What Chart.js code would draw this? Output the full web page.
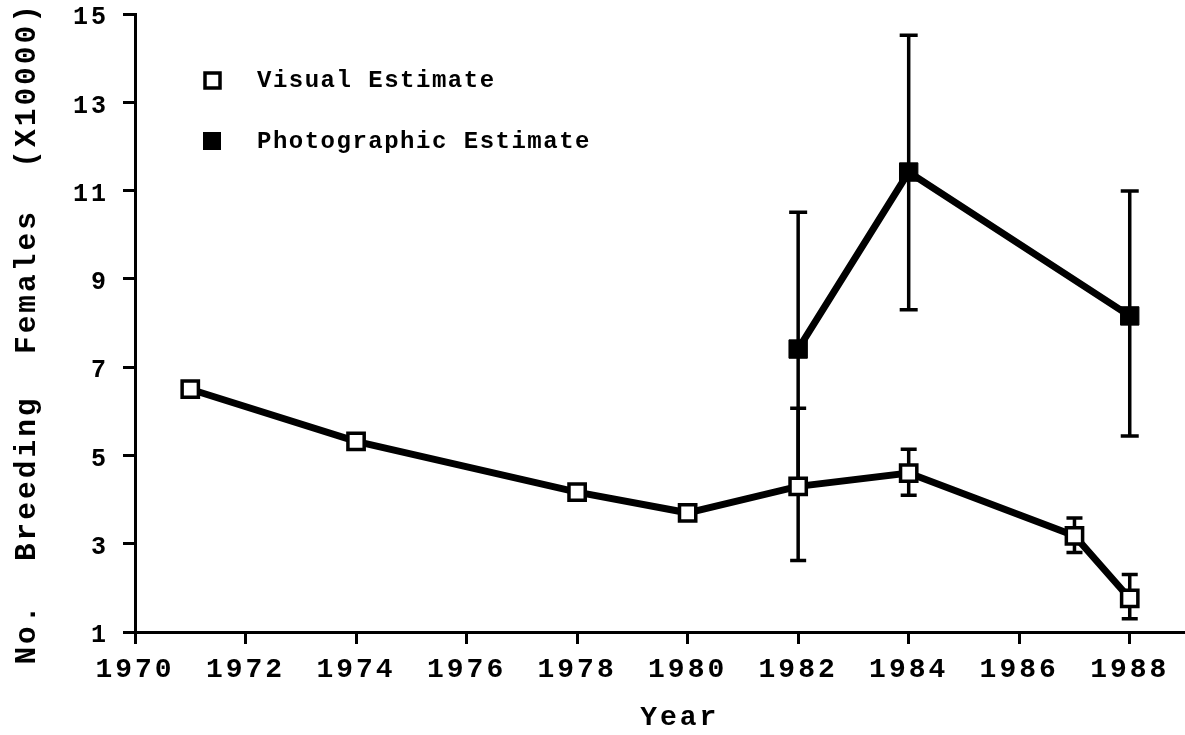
<!DOCTYPE html>
<html>
<head>
<meta charset="utf-8">
<script src="https://cdn.jsdelivr.net/npm/chart.js@4"></script>
<style>
	html, body { margin: 0; padding: 0; background: #fff; }
	#wrap { width: 1185px; height: 735px; }
</style>
</head>
<body>
<div id="wrap"><canvas id="chart" width="1185" height="735"></canvas></div>
<script>
// values (x10000 breeding females)
const visualYears = [1971, 1974, 1978, 1980, 1982, 1984, 1987, 1988];
const visualValues = [6.5, 5.32, 4.17, 3.7, 4.3, 4.6, 3.18, 1.76];
const visualLow = [null, null, null, null, 2.62, 4.1, 2.8, 1.3];
const visualHigh = [null, null, null, null, 6.07, 5.14, 3.58, 2.3];

const photoYears = [1982, 1984, 1988];
const photoValues = [7.41, 11.42, 8.16];
const photoLow = [4.3, 8.3, 5.44];
const photoHigh = [10.51, 14.52, 10.99];

const yTicks = [1, 3, 5, 7, 9, 11, 13, 15];
const xTicks = [1970, 1972, 1974, 1976, 1978, 1980, 1982, 1984, 1986, 1988];

const FONT = "'Liberation Mono', 'Courier New', monospace";

function toPoints(xs, ys) {
	return xs.map((x, i) => ({ x: x, y: ys[i] }));
}

// let the layout padding alone decide where the plot area sits
function noOverhang(s) {
	s.paddingTop = 0;
	s.paddingBottom = 0;
	s.paddingLeft = 0;
	s.paddingRight = 0;
}

const spacing = {
	id: "spacing",
	beforeLayout(chart) { chart.ctx.letterSpacing = "3px"; },
	beforeDraw(chart) { chart.ctx.letterSpacing = "3px"; },
};

const errorBars = {
	id: "errorBars",
	beforeDatasetsDraw(chart) {
		const { ctx, scales } = chart;
		const sets = [
			{ years: visualYears, low: visualLow, high: visualHigh, cap: 8 },
			{ years: photoYears, low: photoLow, high: photoHigh, cap: 9 },
		];
		ctx.save();
		ctx.strokeStyle = "#000";
		ctx.lineWidth = 3.5;
		sets.forEach(s => {
			s.years.forEach((yr, i) => {
				if (s.low[i] == null) return;
				const x = scales.x.getPixelForValue(yr);
				const y1 = scales.y.getPixelForValue(s.low[i]);
				const y2 = scales.y.getPixelForValue(s.high[i]);
				ctx.beginPath();
				ctx.moveTo(x, y1);
				ctx.lineTo(x, y2);
				ctx.moveTo(x - s.cap, y1);
				ctx.lineTo(x + s.cap, y1);
				ctx.moveTo(x - s.cap, y2);
				ctx.lineTo(x + s.cap, y2);
				ctx.stroke();
			});
		});
		ctx.restore();
	},
};

const legendBox = {
	id: "legendBox",
	afterDraw(chart) {
		const ctx = chart.ctx;
		const rows = [80, 141];
		ctx.save();
		ctx.letterSpacing = "1.5px";
		ctx.font = "bold 24px " + FONT;
		ctx.textBaseline = "middle";
		ctx.fillStyle = "#000";
		chart.data.datasets.forEach((ds, i) => {
			const y = rows[i];
			if (ds.pointBackgroundColor === "#000") {
				ctx.fillRect(203, y - 9, 18, 18);
			} else {
				ctx.lineWidth = 3.5;
				ctx.strokeRect(205, y - 7, 15, 15);
			}
			ctx.fillText(ds.label, 257, y + 1);
		});
		ctx.restore();
	},
};

new Chart(document.getElementById("chart"), {
	type: "line",
	data: {
		datasets: [
			{
				label: "Visual Estimate",
				data: toPoints(visualYears, visualValues),
				borderColor: "#000",
				borderWidth: 7,
				pointStyle: "rect",
				pointRadius: 11.5,
				pointBorderWidth: 3.5,
				pointBorderColor: "#000",
				pointBackgroundColor: "#fff",
			},
			{
				label: "Photographic Estimate",
				data: toPoints(photoYears, photoValues),
				borderColor: "#000",
				borderWidth: 7,
				pointStyle: "rect",
				pointRadius: 13,
				pointBorderWidth: 1,
				pointBorderColor: "#000",
				pointBackgroundColor: "#000",
			},
		],
	},
	options: {
		responsive: false,
		animation: false,
		layout: { autoPadding: false, padding: { top: 14, right: 0, bottom: 0, left: 0 } },
		plugins: { legend: { display: false }, tooltip: { enabled: false } },
		scales: {
			x: {
				type: "linear",
				min: 1970,
				max: 1989,
				afterFit: s => { s.height = 103; noOverhang(s); },
				afterBuildTicks: s => { s.ticks = xTicks.map(v => ({ value: v })); },
				border: { color: "#000", width: 3 },
				grid: { drawOnChartArea: false, color: "#000", tickLength: 12, tickWidth: 3 },
				ticks: {
					color: "#000",
					font: { family: FONT, size: 28, weight: "bold" },
					padding: 9,
					maxRotation: 0,
					autoSkip: false,
					callback: v => String(v),
				},
				title: {
					display: true,
					text: "  Year",
					color: "#000",
					font: { family: FONT, size: 28, weight: "bold" },
					padding: { top: 0, bottom: 0 },
				},
			},
			y: {
				min: 1,
				max: 15,
				afterFit: s => { s.width = 135; noOverhang(s); },
				afterBuildTicks: s => { s.ticks = yTicks.map(v => ({ value: v })); },
				border: { color: "#000", width: 3 },
				grid: { drawOnChartArea: false, color: "#000", tickLength: 12, tickWidth: 3 },
				ticks: {
					color: "#000",
					font: { family: FONT, size: 25, weight: "bold" },
					padding: 14,
					labelOffset: 4,
					callback: v => String(v),
				},
				title: {
					display: true,
					text: "No.  Breeding  Females  (X10000) ",
					color: "#000",
					font: { family: FONT, size: 29.5, weight: "bold" },
					padding: { top: 10, bottom: 0 },
				},
			},
		},
	},
	plugins: [spacing, errorBars, legendBox],
});
</script>
</body>
</html>
